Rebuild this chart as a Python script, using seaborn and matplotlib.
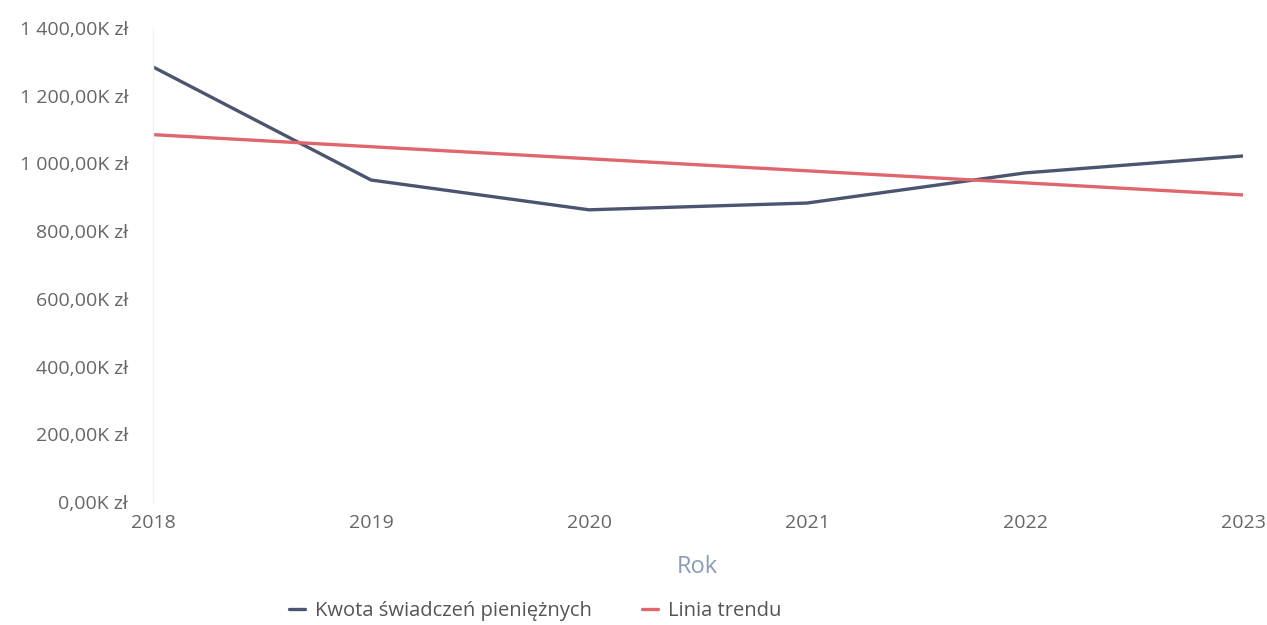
import matplotlib
matplotlib.use("Agg")
import matplotlib.pyplot as plt
import matplotlib.ticker as mticker
import seaborn as sns
import pandas as pd

# --- Dane (tys. zł) ---
years = [2018, 2019, 2020, 2021, 2022, 2023]
amounts = [1285, 951, 863, 883, 972, 1022]
trend_years = [2018, 2023]
trend_values = [1085, 907]
y_ticks = [0, 200, 400, 600, 800, 1000, 1200, 1400]

series_name = "Kwota świadczeń pieniężnych"
trend_name = "Linia trendu"

df = pd.DataFrame({"Rok": years, "Kwota": amounts})
df_trend = pd.DataFrame({"Rok": trend_years, "Kwota": trend_values})

sns.set_style("white")
plt.rcParams["font.family"] = ["Open Sans", "DejaVu Sans"]

fig = plt.figure(figsize=(12.67, 6.25), dpi=100)
ax = fig.add_axes([0.1208, 0.1968, 0.8603, 0.7584])

sns.lineplot(data=df, x="Rok", y="Kwota", ax=ax, color="#4b5570",
             linewidth=2.4, label=series_name)
sns.lineplot(data=df_trend, x="Rok", y="Kwota", ax=ax, color="#e0666e",
             linewidth=2.4, label=trend_name)

ax.set_xlim(2018, 2023)
ax.set_ylim(0, 1400)
ax.set_xticks(years)
ax.set_yticks(y_ticks)


def fmt_pln(v, pos):
    s = f"{v:,.2f}".replace(",", " ").replace(".", ",")
    return s + "K zł"


ax.yaxis.set_major_formatter(mticker.FuncFormatter(fmt_pln))
ax.tick_params(axis="both", length=0, labelsize=14, labelcolor="#666666")
ax.tick_params(axis="y", pad=18)
ax.tick_params(axis="x", pad=9)

for side in ["top", "right", "bottom"]:
    ax.spines[side].set_visible(False)
ax.spines["left"].set_color("#f2f2f2")
ax.spines["left"].set_linewidth(1)

ax.set_xlabel("")
ax.set_ylabel("")
fig.text(697 / 1267, 1 - 567 / 625, "Rok", ha="center", va="center",
         fontsize=17, color="#8a9db5")

handles, labels = ax.get_legend_handles_labels()
ax.get_legend().remove()
fig.legend(handles, labels, loc="center", bbox_to_anchor=(535 / 1267, 1 - 611 / 625),
           ncol=2, frameon=False, fontsize=14.5, handlelength=0.8,
           columnspacing=2.5, handletextpad=0.5, labelcolor="#555555")

fig.savefig("out.png", dpi=100, facecolor="white")
